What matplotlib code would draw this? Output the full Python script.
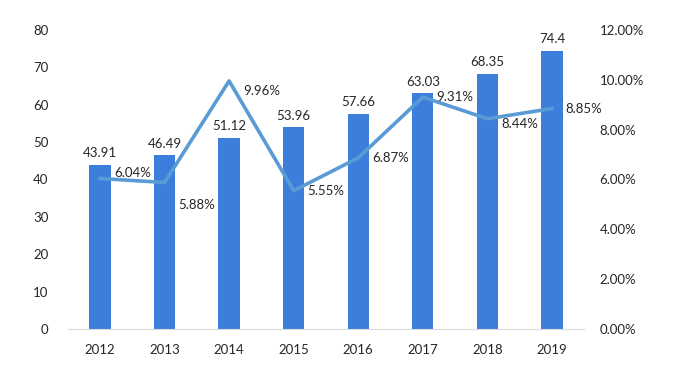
import matplotlib.pyplot as plt
from matplotlib.ticker import FuncFormatter

# Data
years = ['2012', '2013', '2014', '2015', '2016', '2017', '2018', '2019']
values = [43.91, 46.49, 51.12, 53.96, 57.66, 63.03, 68.35, 74.4]
growth = [6.04, 5.88, 9.96, 5.55, 6.87, 9.31, 8.44, 8.85]

# Label offsets (points) for the growth labels, roughly as in the original
growth_offsets = [(10, 4), (10, -16), (10, -7), (10, 0), (10, 0), (10, 0), (10, -4), (10, 0)]

plt.rcParams['font.family'] = ['Lato', 'DejaVu Sans']
plt.rcParams['font.size'] = 9.5

bar_colour = '#3B7EDC'
line_colour = '#5B9BD5'
text_colour = '#262626'

fig = plt.figure(figsize=(6.77, 3.72), dpi=100)
ax = fig.add_axes([0.100, 0.116, 0.763, 0.803])
ax2 = ax.twinx()

x = list(range(len(years)))
ax.bar(x, values, width=0.33, color=bar_colour, zorder=2)
for xi, v in zip(x, values):
    ax.annotate(f'{v:g}', (xi, v), xytext=(0, 4), textcoords='offset points',
                ha='center', va='bottom', color=text_colour)

ax2.plot(x, growth, color=line_colour, linewidth=2.6, zorder=3)
for xi, g, off in zip(x, growth, growth_offsets):
    ax2.annotate(f'{g:.2f}%', (xi, g), xytext=off, textcoords='offset points',
                 ha='left', va='center', color=text_colour)

ax.set_xlim(-0.5, len(years) - 0.5)
ax.set_ylim(0, 80)
ax.set_yticks(range(0, 81, 10))
ax2.set_ylim(0, 12)
ax2.set_yticks(range(0, 13, 2))
ax2.yaxis.set_major_formatter(FuncFormatter(lambda v, p: f'{v:.2f}%'))
ax.set_xticks(x)
ax.set_xticklabels(years)

for a in (ax, ax2):
    for side in ('top', 'left', 'right', 'bottom'):
        a.spines[side].set_visible(False)
    a.tick_params(length=0, colors=text_colour, labelsize=9.5)
ax.spines['bottom'].set_visible(True)
ax.spines['bottom'].set_color('#D9D9D9')
ax.tick_params(axis='x', pad=11)
ax.tick_params(axis='y', pad=14)
ax2.tick_params(axis='y', pad=11)

plt.savefig('out.png', dpi=100)
